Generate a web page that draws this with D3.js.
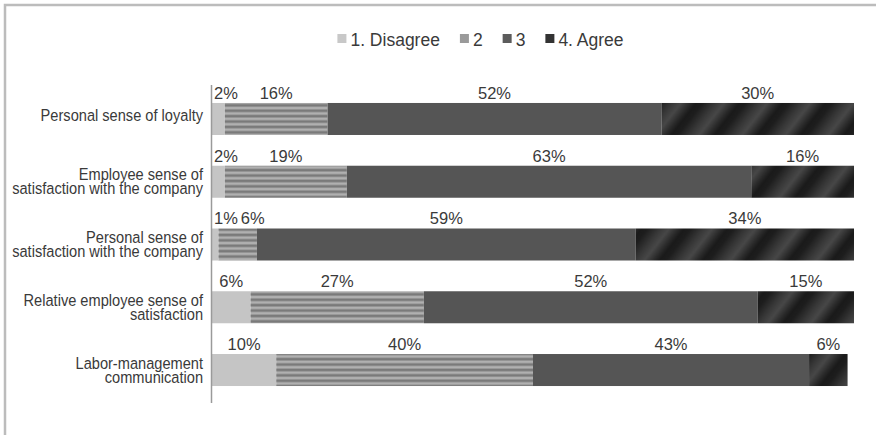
<!DOCTYPE html>
<html>
<head>
<meta charset="utf-8">
<script src="https://cdn.jsdelivr.net/npm/d3@7"></script>
<style>
  html, body { margin: 0; padding: 0; background: #fff; }
  svg { display: block; }
</style>
</head>
<body>
<svg id="chart" width="876" height="435"></svg>
<script>
// Survey items (line breaks mark where the axis label wraps)
const categories = [
  "Personal sense of loyalty",
  "Employee sense of\nsatisfaction with the company",
  "Personal sense of\nsatisfaction with the company",
  "Relative employee sense of\nsatisfaction",
  "Labor-management\ncommunication"
];

// Response shares, in percent
const disagree = [2, 2, 1, 6, 10];
const level2   = [16, 19, 6, 27, 40];
const level3   = [52, 63, 59, 52, 43];
const agree    = [30, 16, 34, 15, 6];

const seriesNames = ["1. Disagree", "2", "3", "4. Agree"];
const seriesKeys = ["d", "l2", "l3", "a"];

const rows = categories.map((c, i) => ({
  cat: c, d: disagree[i], l2: level2[i], l3: level3[i], a: agree[i]
}));

const svg = d3.select("#chart");
const W = 876, H = 435;
const font = "'Liberation Sans', Arial, sans-serif";
const textColor = "#3a3a3a";

// Outer frame (runs past the right and bottom edges)
svg.append("path")
  .attr("d", `M5,${H + 10} V5 H${W + 10}`)
  .attr("fill", "none")
  .attr("stroke", "#bcbcbc")
  .attr("stroke-width", 2.5);

const defs = svg.append("defs");

// Horizontal pin-stripe fill for level 2
const hp = defs.append("pattern")
  .attr("id", "hstripe")
  .attr("patternUnits", "userSpaceOnUse")
  .attr("width", 10).attr("height", 5.4);
hp.append("rect").attr("width", 10).attr("height", 5.4).attr("fill", "#b0b0b0");
hp.append("rect").attr("y", 1.4).attr("width", 10).attr("height", 2.7).attr("fill", "#7a7a7a");

// Soft diagonal band fill for level 4
const grad = defs.append("linearGradient")
  .attr("id", "diagGrad")
  .attr("x1", "0").attr("x2", "1").attr("y1", "0").attr("y2", "0");
[[0, "#1a1a1a"], [0.15, "#1d1d1d"], [0.45, "#383838"], [0.65, "#474747"], [0.88, "#282828"], [1, "#1a1a1a"]]
  .forEach(([o, c]) => grad.append("stop").attr("offset", o).attr("stop-color", c));
const dp = defs.append("pattern")
  .attr("id", "diag")
  .attr("patternUnits", "userSpaceOnUse")
  .attr("width", 34).attr("height", 68)
  .attr("patternTransform", "rotate(38)");
dp.append("rect").attr("width", 34).attr("height", 68).attr("fill", "url(#diagGrad)");

const fills = { d: "#c5c5c5", l2: "url(#hstripe)", l3: "#555555", a: "url(#diag)" };
const legendFills = { d: "#c8c8c8", l2: "#9a9a9a", l3: "#5c5c5c", a: "#333333" };

// Scales
const x = d3.scaleLinear().domain([0, 100]).range([212, 854]);
const y = d3.scaleBand().domain(categories).range([87.6, 401.4])
  .paddingInner(0.49).paddingOuter(0.245);

const stacked = d3.stack().keys(seriesKeys)(rows);

// Bars
svg.append("g").selectAll("g")
  .data(stacked).join("g")
  .attr("fill", d => fills[d.key])
  .selectAll("rect")
  .data(d => d)
  .join("rect")
  .attr("x", d => x(d[0]))
  .attr("y", d => y(d.data.cat))
  .attr("width", d => x(d[1]) - x(d[0]))
  .attr("height", y.bandwidth());

// Category axis; labels are set in a horizontally condensed face
const squeeze = 0.86;
const axis = svg.append("g")
  .attr("transform", "translate(211.5,0)")
  .call(d3.axisLeft(y).tickSize(0).tickPadding(8));
axis.select(".domain")
  .attr("stroke", "#9a9a9a")
  .attr("stroke-width", 1.5)
  .attr("d", "M0,85 V403");
axis.selectAll(".tick text")
  .attr("font-family", font)
  .attr("font-size", 17)
  .attr("fill", textColor)
  .attr("transform", `scale(${squeeze},1)`)
  .each(function (d) {
    const lines = d.split("\n");
    const t = d3.select(this).text(null).attr("dy", null).attr("x", null);
    const lh = 14;
    const first = -((lines.length - 1) * lh) / 2 + (lines.length > 1 ? 5.5 : 2.5);
    lines.forEach((ln, i) => {
      t.append("tspan").attr("x", -8.5 / squeeze).attr("y", first + i * lh).text(ln);
    });
  });

// Value labels above each bar, nudged apart where they would collide
const labelG = svg.append("g")
  .attr("font-family", font)
  .attr("font-size", 16.5)
  .attr("fill", textColor)
  .attr("text-anchor", "middle");

rows.forEach(r => {
  let prevRight = x(0) - 1;
  seriesKeys.forEach((k, j) => {
    const seg = stacked[j].find(s => s.data.cat === r.cat);
    const t = labelG.append("text").attr("y", y(r.cat) - 4).text(`${r[k]}%`);
    const w = t.node().getComputedTextLength();
    let cx = (x(seg[0]) + x(seg[1])) / 2;
    cx = Math.max(cx, prevRight + 3 + w / 2);
    t.attr("x", cx);
    prevRight = cx + w / 2;
  });
});

// Legend
const legend = svg.append("g")
  .attr("font-family", font)
  .attr("font-size", 17.5)
  .attr("fill", textColor);
const gap = 20;
let lx = 0;
seriesKeys.forEach((k, i) => {
  const g = legend.append("g");
  g.append("rect").attr("x", lx).attr("y", -12).attr("width", 9).attr("height", 9)
    .attr("fill", legendFills[k]);
  const t = g.append("text").attr("x", lx + 13).attr("y", 0).text(seriesNames[i]);
  lx += 13 + t.node().getComputedTextLength() + gap;
});
legend.attr("transform", `translate(${480.5 - (lx - gap) / 2},46)`);
</script>
</body>
</html>
